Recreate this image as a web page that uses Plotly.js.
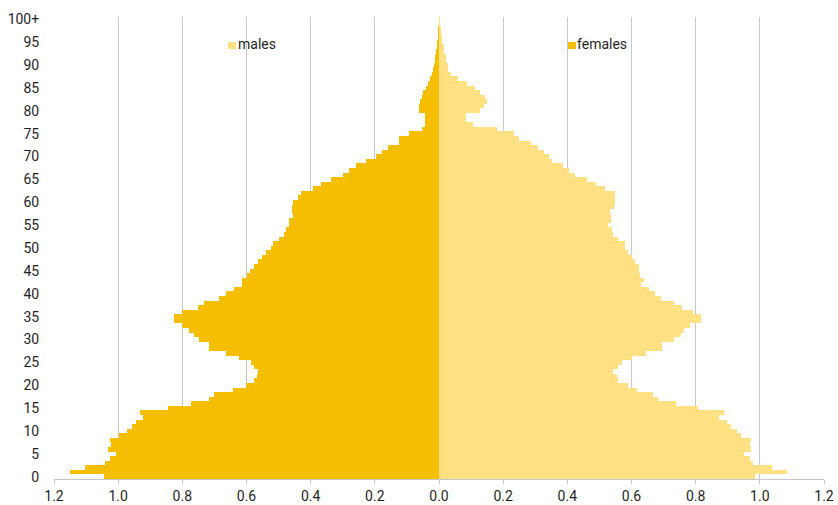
<!DOCTYPE html>
<html>
<head>
<meta charset="utf-8">
<script src="https://cdn.plot.ly/plotly-3.0.1.min.js"></script>
<style>html,body{margin:0;padding:0;background:#fff;}#chart{width:838px;height:505px;}</style>
</head>
<body>
<div id="chart"></div>
<script>
// Ages 0..100 (100 = "100+")
var ages = [];
for (var a = 0; a <= 100; a++) ages.push(a);

var males = [
 1.044,1.150,1.103,1.040,1.025,1.007,1.033,1.022,1.024,0.996,
 0.971,0.956,0.943,0.924,0.931,0.846,0.774,0.716,0.701,0.643,
 0.603,0.576,0.568,0.563,0.578,0.587,0.622,0.665,0.717,0.717,
 0.748,0.765,0.778,0.800,0.825,0.825,0.800,0.750,0.734,0.687,
 0.664,0.639,0.614,0.613,0.599,0.589,0.576,0.565,0.551,0.539,
 0.524,0.518,0.500,0.482,0.477,0.469,0.469,0.454,0.458,0.458,
 0.454,0.440,0.430,0.392,0.368,0.337,0.300,0.280,0.259,0.228,
 0.197,0.179,0.160,0.125,0.125,0.092,0.054,0.045,0.043,0.045,
 0.061,0.061,0.058,0.054,0.049,0.042,0.034,0.028,0.022,0.019,
 0.016,0.013,0.011,0.009,0.007,0.006,0.004,0.003,0.002,0.001,
 0.001
];

var females = [
 0.985,1.084,1.039,0.978,0.969,0.951,0.972,0.970,0.972,0.940,
 0.928,0.910,0.897,0.873,0.888,0.806,0.739,0.683,0.668,0.616,
 0.588,0.557,0.555,0.541,0.557,0.571,0.600,0.644,0.694,0.696,
 0.732,0.753,0.765,0.782,0.816,0.816,0.793,0.758,0.732,0.692,
 0.673,0.655,0.629,0.640,0.628,0.623,0.623,0.611,0.602,0.590,
 0.580,0.580,0.557,0.541,0.538,0.527,0.535,0.535,0.533,0.546,
 0.550,0.550,0.548,0.517,0.489,0.460,0.423,0.406,0.385,0.353,
 0.342,0.328,0.307,0.286,0.249,0.234,0.182,0.106,0.083,0.083,
 0.128,0.140,0.151,0.144,0.128,0.111,0.086,0.059,0.038,0.028,
 0.028,0.023,0.023,0.016,0.016,0.010,0.010,0.006,0.005,0.004,
 0.004
];

var yTickVals = [0,5,10,15,20,25,30,35,40,45,50,55,60,65,70,75,80,85,90,95,100];
var yTickText = ["0","5","10","15","20","25","30","35","40","45","50","55","60","65","70","75","80","85","90","95","100+"];
var xTickVals = [-1.2,-1.0,-0.8,-0.6,-0.4,-0.2,0,0.2,0.4,0.6,0.8,1.0,1.2];
var xTickText = ["1.2","1.0","0.8","0.6","0.4","0.2","0.0","0.2","0.4","0.6","0.8","1.0","1.2"];

var colMale = "#F5BF00";
var colFemale = "#FFE083";

var traces = [
  {type:"bar", orientation:"h", name:"males", y:ages, x:males.map(function(v){return -v;}),
   marker:{color:colMale, line:{width:0}}, width:1, showlegend:false, hoverinfo:"skip"},
  {type:"bar", orientation:"h", name:"females", y:ages, x:females,
   marker:{color:colFemale, line:{width:0}}, width:1, showlegend:false, hoverinfo:"skip"}
];

var fontFam = "Roboto, 'Noto Sans', Arial, sans-serif";
var txtCol = "#1f1f1f";
var layout = {
  width:838, height:505,
  margin:{l:54, r:14, t:17, b:26, pad:0},
  paper_bgcolor:"#ffffff", plot_bgcolor:"#ffffff",
  barmode:"overlay", bargap:0,
  font:{family:fontFam, size:14, color:txtCol},
  xaxis:{range:[-1.2,1.2], tickvals:xTickVals, ticktext:xTickText,
         showgrid:true, gridcolor:"#c8c8c8", gridwidth:1, zeroline:false,
         showline:true, linecolor:"#c8c8c8", linewidth:1,
         ticks:"outside", ticklen:4, tickcolor:"#c8c8c8",
         tickfont:{family:fontFam, size:14, color:txtCol}, fixedrange:true},
  yaxis:{range:[-0.5,100.5], tickvals:yTickVals, ticktext:yTickText,
         showgrid:false, zeroline:false, showline:false,
         ticks:"outside", ticklen:11, tickcolor:"rgba(0,0,0,0)",
         tickfont:{family:fontFam, size:14, color:txtCol}, fixedrange:true},
  shapes:[
    {type:"rect", xref:"paper", yref:"paper", x0:0.2260, x1:0.2364, y0:0.9307, y1:0.9459,
     fillcolor:colFemale, line:{width:0}},
    {type:"rect", xref:"paper", yref:"paper", x0:0.6675, x1:0.6779, y0:0.9307, y1:0.9459,
     fillcolor:colMale, line:{width:0}}
  ],
  annotations:[
    {xref:"paper", yref:"paper", x:0.2362, y:0.9405, xanchor:"left", yanchor:"middle",
     text:"males", showarrow:false, font:{family:fontFam, size:14, color:txtCol}},
    {xref:"paper", yref:"paper", x:0.6772, y:0.9405, xanchor:"left", yanchor:"middle",
     text:"females", showarrow:false, font:{family:fontFam, size:14, color:txtCol}}
  ]
};

Plotly.newPlot("chart", traces, layout, {staticPlot:true, displayModeBar:false});
</script>
</body>
</html>
